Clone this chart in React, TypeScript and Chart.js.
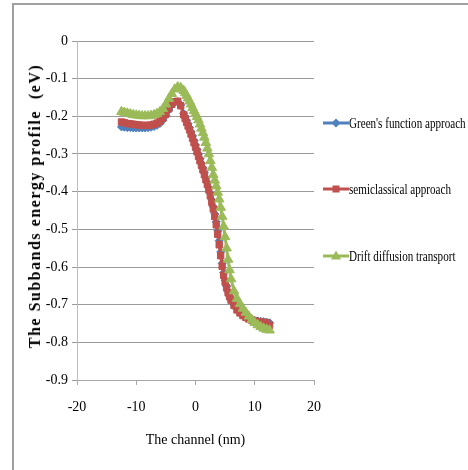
import React, { useEffect, useRef } from "react";
import { Chart, registerables } from "chart.js";

Chart.register(...registerables);

// Channel position (nm)
const channelNm = [
  -12.5, -12, -11.5, -11, -10.5, -10, -9.5, -9, -8.5, -8, -7.5, -7, -6.5, -6, -5.5, -5, -4.5, -4, -3.5, -3, -2.5,
  -2, -1.75, -1.5, -1.25, -1, -0.75, -0.5, -0.25, 0, 0.25, 0.5, 0.75, 1, 1.25, 1.5, 1.75, 2, 2.25, 2.5, 2.75, 3,
  3.25, 3.5, 3.75, 4, 4.25, 4.5, 4.75, 5, 5.25, 5.5, 5.75, 6,
  6.5, 7, 7.5, 8, 8.5, 9, 9.5, 10, 10.5, 11, 11.5, 12, 12.5,
];

const greensFunction = [
  -0.228, -0.229, -0.23, -0.23, -0.231, -0.231, -0.231, -0.231, -0.231, -0.23, -0.229, -0.227, -0.224, -0.219, -0.21, -0.198, -0.183, -0.17, -0.162, -0.161, -0.17,
  -0.192, -0.201, -0.211, -0.22, -0.23, -0.241, -0.252, -0.264, -0.276, -0.288, -0.3, -0.312, -0.325, -0.337, -0.35, -0.363, -0.376, -0.39, -0.405, -0.422, -0.44,
  -0.459, -0.48, -0.504, -0.53, -0.56, -0.59, -0.615, -0.635, -0.651, -0.665, -0.677, -0.686,
  -0.7, -0.712, -0.721, -0.728, -0.733, -0.737, -0.74, -0.742, -0.743, -0.744, -0.745, -0.746, -0.748,
];

const semiclassical = [
  -0.215, -0.217, -0.219, -0.22, -0.221, -0.222, -0.223, -0.224, -0.224, -0.224, -0.223, -0.221, -0.218, -0.213, -0.205, -0.194, -0.18, -0.168, -0.161, -0.16, -0.172,
  -0.196, -0.206, -0.216, -0.226, -0.236, -0.247, -0.258, -0.27, -0.282, -0.294, -0.306, -0.318, -0.33, -0.342, -0.355, -0.368, -0.381, -0.395, -0.411, -0.428, -0.446,
  -0.466, -0.488, -0.513, -0.541, -0.57, -0.598, -0.622, -0.64, -0.655, -0.668, -0.679, -0.688,
  -0.702, -0.714, -0.722, -0.729, -0.734, -0.738, -0.741, -0.743, -0.745, -0.746, -0.747, -0.748, -0.755,
];

const driftDiffusion = [
  -0.188, -0.19, -0.192, -0.194, -0.196, -0.197, -0.198, -0.199, -0.199, -0.199, -0.198, -0.196, -0.193, -0.188, -0.18, -0.168, -0.153, -0.14, -0.128, -0.122, -0.124,
  -0.132, -0.138, -0.145, -0.152, -0.16, -0.168, -0.177, -0.185, -0.193, -0.201, -0.21, -0.221, -0.232, -0.244, -0.256, -0.27, -0.285, -0.3, -0.318, -0.336, -0.355,
  -0.37, -0.385, -0.402, -0.42, -0.442, -0.466, -0.492, -0.52, -0.55, -0.58, -0.608, -0.632,
  -0.664, -0.684, -0.698, -0.71, -0.721, -0.731, -0.74, -0.748, -0.754, -0.759, -0.763, -0.766, -0.768,
];

const seriesNames = ["Green's function approach", "semiclassical approach", "Drift diffusion transport"];
const seriesColors = ["#4F81BD", "#C0504D", "#9BBB59"];
const seriesShapes = ["rectRot", "rect", "triangle"];
const xTitle = "The channel (nm)";
const yTitle = "The Subbands energy profile  (eV)";

const SERIF = "'Liberation Serif', 'Times New Roman', serif";

function LegendMarker({ shape, color }: { shape: string; color: string }) {
  let mark: React.ReactNode = null;
  if (shape === "rectRot") {
    mark = <polygon points="13,3.5 17.5,8 13,12.5 8.5,8" fill={color} />;
  } else if (shape === "rect") {
    mark = <rect x={9.5} y={4.5} width={7} height={7} fill={color} />;
  } else {
    mark = <polygon points="13,2.5 18,11.5 8,11.5" fill={color} />;
  }
  return (
    <svg width={26} height={16} style={{ display: "block", flex: "none" }}>
      <line x1={0} y1={8} x2={26} y2={8} stroke={color} strokeWidth={3} />
      {mark}
    </svg>
  );
}

export default function App() {
  const ref = useRef<HTMLCanvasElement | null>(null);

  useEffect(() => {
    const canvas = ref.current;
    if (!canvas) return;
    const seriesValues = [greensFunction, semiclassical, driftDiffusion];
    const radii = [4, 4.5, 5.5];
    const chart = new Chart(canvas, {
      type: "line",
      data: {
        datasets: seriesValues.map((vals, i) => ({
          label: seriesNames[i],
          data: channelNm.map((x, j) => ({ x, y: vals[j] })),
          borderColor: seriesColors[i],
          backgroundColor: seriesColors[i],
          borderWidth: 3,
          pointStyle: seriesShapes[i] as any,
          pointRadius: radii[i],
          pointBorderWidth: 1,
          order: 2 - i,
          tension: 0,
        })),
      },
      options: {
        responsive: false,
        animation: false,
        devicePixelRatio: 1,
        layout: { padding: { top: 41, right: 16, left: 0, bottom: 0 } },
        plugins: { legend: { display: false }, tooltip: { enabled: false } },
        scales: {
          x: {
            type: "linear",
            min: -20,
            max: 20,
            ticks: {
              stepSize: 10,
              color: "#000",
              padding: 14,
              font: { family: SERIF, size: 14 },
            },
            grid: { drawOnChartArea: false, drawTicks: true, tickLength: 5, color: "#a6a6a6" },
            border: { color: "#a6a6a6", width: 1 },
            title: {
              display: true,
              text: xTitle,
              color: "#000",
              font: { family: SERIF, size: 14 },
              padding: { top: 0, bottom: 21 },
            },
            afterFit: (s: any) => {
              s.height = 90;
            },
          },
          y: {
            type: "linear",
            min: -0.9,
            max: 0,
            ticks: {
              stepSize: 0.1,
              color: "#000",
              padding: 4,
              font: { family: SERIF, size: 14 },
              callback: (v: any) => {
                const n = Math.round(Number(v) * 10) / 10;
                return n === 0 ? "0" : String(n);
              },
            },
            grid: { color: "#9a9a9a", tickLength: 5, lineWidth: 1 },
            border: { color: "#bdbdbd", width: 1 },
            afterFit: (s: any) => {
              s.width = 77;
            },
          },
        },
      },
    });
    return () => chart.destroy();
  }, []);

  const legendY = [123, 189, 256];

  return (
    <div
      style={{
        position: "fixed",
        left: 0,
        top: 0,
        width: 468,
        height: 470,
        background: "#fff",
        overflow: "hidden",
      }}
    >
      <div
        style={{
          position: "absolute",
          left: 12,
          top: 3,
          width: 480,
          height: 490,
          border: "2px solid #a0a0a0",
          boxSizing: "border-box",
        }}
      />
      <canvas
        ref={ref}
        width={335}
        height={470}
        style={{ position: "absolute", left: 0, top: 0, width: 335, height: 470 }}
      />
      <div
        style={{
          position: "absolute",
          left: 35,
          top: 206,
          transform: "translate(-50%, -50%) rotate(-90deg)",
          fontFamily: SERIF,
          fontWeight: "bold",
          fontSize: 16,
          letterSpacing: 1.5,
          whiteSpace: "pre",
          color: "#000",
          lineHeight: "18px",
        }}
      >
        {yTitle}
      </div>
      {seriesNames.map((name, i) => (
        <div
          key={name}
          style={{
            position: "absolute",
            left: 323,
            top: legendY[i] - 10,
            height: 20,
            display: "flex",
            alignItems: "center",
            whiteSpace: "nowrap",
          }}
        >
          <LegendMarker shape={seriesShapes[i]} color={seriesColors[i]} />
          <span
            style={{
              fontFamily: SERIF,
              fontSize: 15,
              color: "#000",
              display: "inline-block",
              transform: "scaleX(0.74)",
              transformOrigin: "left center",
              lineHeight: "20px",
            }}
          >
            {name}
          </span>
        </div>
      ))}
    </div>
  );
}
